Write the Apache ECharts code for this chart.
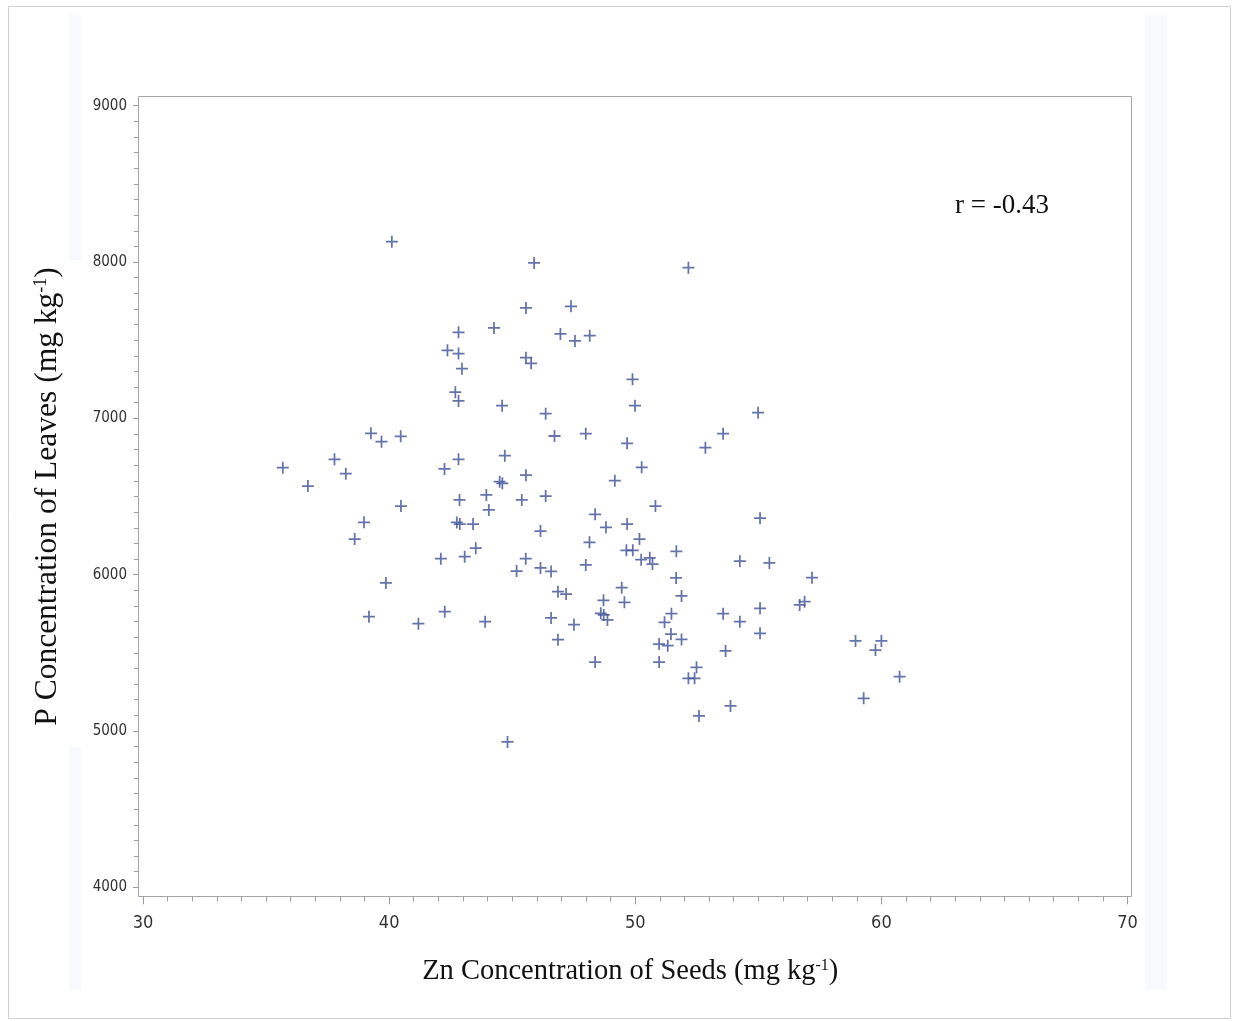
<!DOCTYPE html>
<html>
<head>
<meta charset="utf-8">
<script src="https://cdn.jsdelivr.net/npm/echarts@6/dist/echarts.min.js"></script>
<style>
  html, body { margin: 0; padding: 0; background: #fff; }
  #chart { width: 1235px; height: 1021px; }
</style>
</head>
<body>
<div id="chart"></div>
<script>
// Zn in seeds (mg/kg) vs P in leaves (mg/kg)
var zn = [
  40.11, 45.89, 52.16, 45.56, 47.39, 44.26, 42.82, 46.96, 48.15, 47.55,
  42.37, 42.82, 45.56, 45.77, 42.96, 49.89, 42.69, 42.82, 44.59, 49.99,
  54.99, 46.36, 39.26, 40.47, 39.69, 46.72, 47.99, 53.57, 49.67, 52.85,
  37.78, 42.82, 44.70, 35.68, 38.24, 42.25, 50.26, 45.56, 36.70, 44.49,
  44.60, 49.17, 43.95, 46.36, 42.86, 45.39, 40.48, 44.05, 50.82, 48.37,
  55.07, 38.98, 42.75, 42.87, 43.41, 49.67, 48.81, 46.15, 38.60, 50.17,
  43.52, 48.14, 49.64, 49.90, 51.67, 42.10, 43.07, 45.55, 50.24, 50.59,
  50.70, 54.25, 55.45, 46.15, 45.18, 46.58, 47.99, 51.66, 57.18, 39.87,
  46.86, 47.19, 49.45, 51.88, 48.71, 49.56, 56.68, 56.88, 55.07, 42.26,
  39.18, 48.60, 48.72, 51.47, 53.57, 48.87, 46.58, 41.19, 43.90, 47.51,
  51.19, 54.25, 51.45, 55.07, 46.86, 51.88, 50.97, 51.32, 58.95, 60.00,
  59.76, 53.67, 48.37, 50.97, 52.49, 52.16, 52.41, 60.74, 59.28, 53.87,
  52.59, 44.81
];
var p = [
  8130, 7994, 7964, 7706, 7717, 7578, 7550, 7540, 7529, 7495,
  7435, 7414, 7388, 7352, 7318, 7250, 7167, 7111, 7081, 7081,
  7036, 7030, 6904, 6885, 6851, 6887, 6902, 6902, 6840, 6812,
  6738, 6738, 6761, 6684, 6646, 6676, 6687, 6636, 6567, 6595,
  6584, 6601, 6510, 6503, 6478, 6478, 6439, 6414, 6439, 6386,
  6361, 6335, 6334, 6324, 6324, 6324, 6303, 6279, 6228, 6228,
  6169, 6207, 6156, 6156, 6149, 6102, 6115, 6102, 6096, 6108,
  6068, 6086, 6075, 6043, 6023, 6021, 6062, 5979, 5981, 5947,
  5891, 5876, 5917, 5864, 5836, 5823, 5806, 5827, 5785, 5763,
  5731, 5753, 5742, 5750, 5750, 5710, 5723, 5686, 5699, 5680,
  5695, 5699, 5620, 5625, 5584, 5586, 5556, 5546, 5576, 5576,
  5518, 5512, 5441, 5441, 5407, 5337, 5337, 5347, 5209, 5160,
  5096, 4930
];
var xTicks = [30, 70, 10];      // min, max, step
var yTicks = [4000, 9000, 1000];
var rText = 'r = -0.43';

var points = zn.map(function (v, i) { return [v, p[i]]; });

var serif = '"Liberation Serif", "Times New Roman", serif';
var tickColor = '#9a9ca1';
var plus = 'path://M6.4,0H8.6V6.4H15V8.6H8.6V15H6.4V8.6H0V6.4H6.4Z';

var chart = echarts.init(document.getElementById('chart'));
chart.setOption({
  animation: false,
  backgroundColor: '#fff',
  title: {
    text: rText,
    left: 950,
    top: 187,
    textStyle: { fontFamily: serif, fontSize: 27, fontWeight: 'normal', color: '#111' }
  },
  grid: { left: 143, right: 107.5, top: 105.7, bottom: 133.7 },
  graphic: [
    { type: 'rect', shape: { x: 8.5, y: 6.5, width: 1222, height: 1012 },
      style: { fill: 'none', stroke: '#cfd0d3', lineWidth: 1 }, silent: true },
    { type: 'rect', shape: { x: 69, y: 15, width: 12, height: 245 },
      style: { fill: '#f8f9fd' }, silent: true, z: -1 },
    { type: 'rect', shape: { x: 69, y: 747, width: 12, height: 243 },
      style: { fill: '#f8f9fd' }, silent: true, z: -1 },
    { type: 'rect', shape: { x: 1145, y: 15, width: 22, height: 975 },
      style: { fill: '#f8f9fd' }, silent: true, z: -1 },
    { type: 'rect', shape: { x: 138.5, y: 96.5, width: 993, height: 800 },
      style: { fill: 'none', stroke: '#a3a5aa', lineWidth: 1 }, silent: true, z: 5 }
  ],
  xAxis: {
    type: 'value',
    min: xTicks[0], max: xTicks[1], interval: xTicks[2],
    offset: 9,
    name: 'Zn Concentration of Seeds (mg kg{s|-1})',
    nameLocation: 'middle',
    nameGap: 61,
    nameTextStyle: {
      fontFamily: serif, fontSize: 28.5, color: '#111',
      padding: [0, 10, 0, 0],
      rich: { s: { fontFamily: serif, fontSize: 16, color: '#111', verticalAlign: 'top' } }
    },
    axisLine: { show: false },
    axisTick: { show: true, length: 8, lineStyle: { color: tickColor } },
    minorTick: { show: true, splitNumber: 10, length: 5, lineStyle: { color: tickColor } },
    splitLine: { show: false },
    axisLabel: {
      margin: 18,
      fontFamily: '"Liberation Sans Narrow", "DejaVu Sans Condensed", sans-serif',
      fontSize: 18, color: '#333'
    }
  },
  yAxis: {
    type: 'value',
    min: yTicks[0], max: yTicks[1], interval: yTicks[2],
    offset: 5,
    name: 'P Concentration of Leaves (mg kg{s|-1})',
    nameLocation: 'middle',
    nameGap: 74,
    nameTextStyle: {
      fontFamily: serif, fontSize: 31.5, color: '#111',
      rich: { s: { fontFamily: serif, fontSize: 18, color: '#111', verticalAlign: 'top' } }
    },
    axisLine: { show: false },
    axisTick: { show: true, length: 5, lineStyle: { color: tickColor } },
    minorTick: { show: true, splitNumber: 10, length: 4, lineStyle: { color: tickColor } },
    splitLine: { show: false },
    axisLabel: {
      margin: 11,
      fontFamily: '"DejaVu Sans Condensed", "DejaVu Sans", sans-serif',
      fontSize: 15, color: '#333',
      formatter: function (v) { return String(v); }
    }
  },
  series: [{
    type: 'scatter',
    data: points,
    symbol: plus,
    symbolSize: 12,
    itemStyle: { color: '#3f5096' }
  }]
});
</script>
</body>
</html>
